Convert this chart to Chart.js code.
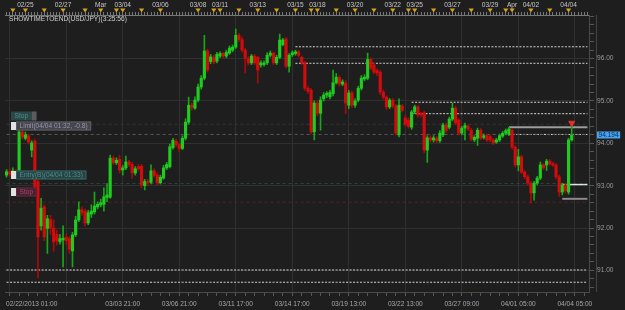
<!DOCTYPE html>
<html>
<head>
<meta charset="utf-8">
<title>USD/JPY H4</title>
<script src="https://cdn.jsdelivr.net/npm/chart.js@4.4.1/dist/chart.umd.min.js"></script>
<style>
  html, body { margin: 0; padding: 0; background: #1e1e1e; }
  #wrap { width: 625px; height: 310px; }
</style>
</head>
<body>
<div id="wrap"><canvas id="chart"></canvas></div>
<script>
//////////////////////////////////////////////////
// Data (USD/JPY, 4 hour candles)

const open = [
  93.25, 93.33, 93.27, 93.33, 93.30, 94.27, 94.12, 94.18, 93.84, 94.05,
  93.10, 92.05, 92.50, 91.99, 92.20, 92.00, 91.85, 91.68, 91.72, 91.78,
  91.75, 91.46, 91.84, 92.19, 92.43, 92.40, 92.12, 92.33, 92.38, 92.50,
  92.55, 92.56, 92.72, 92.73, 93.65, 93.54, 93.62, 93.37, 93.42, 93.56,
  93.50, 93.30, 93.45, 93.46, 93.00, 93.10, 93.08, 93.35, 93.25, 93.07,
  93.18, 93.42, 93.45, 93.90, 94.05, 93.97, 93.88, 94.12, 94.50, 94.90,
  94.83, 95.02, 95.33, 95.54, 96.18, 95.93, 96.03, 95.94, 96.06, 96.12,
  96.06, 96.13, 96.20, 96.27, 96.55, 96.45, 96.20, 96.00, 95.90, 96.06,
  96.03, 95.85, 95.86, 95.90, 96.08, 96.13, 95.90, 96.03, 96.33, 96.46,
  95.82, 96.09, 96.12, 96.16, 96.03, 95.90, 95.30, 95.25, 94.27, 94.95,
  94.71, 95.05, 95.14, 95.10, 95.17, 95.43, 95.56, 95.40, 95.42, 94.90,
  95.19, 94.90, 95.02, 95.30, 95.52, 95.54, 95.98, 95.85, 95.72, 95.68,
  95.21, 95.09, 94.86, 95.02, 94.88, 94.20, 94.88, 94.60, 94.55, 94.38,
  94.74, 94.86, 94.70, 94.72, 93.84, 94.13, 94.08, 94.12, 94.06, 94.20,
  94.43, 94.38, 94.57, 94.83, 94.55, 94.24, 94.36, 94.40, 94.31, 94.08,
  94.12, 94.31, 94.14, 94.18, 94.16, 94.08, 94.03, 94.08, 94.17, 94.24,
  94.22, 94.31, 93.91, 93.49, 93.68, 93.32, 93.21, 93.06, 92.83, 93.06,
  93.18, 93.49, 93.49, 93.58, 93.52, 93.49, 93.21, 92.85, 93.02, 92.85,
  94.08
]
const high = [
  93.38, 93.40, 93.42, 93.38, 94.36, 94.31, 94.27, 94.22, 94.06, 94.10,
  93.15, 92.70, 92.55, 92.30, 92.30, 92.20, 91.95, 91.85, 92.05, 91.85,
  91.80, 91.90, 92.28, 92.62, 92.50, 92.45, 92.42, 92.55, 92.85, 92.62,
  92.68, 92.95, 93.05, 93.72, 93.70, 93.66, 93.72, 93.48, 93.70, 93.60,
  93.56, 93.45, 93.50, 93.50, 93.15, 93.15, 93.49, 93.40, 93.30, 93.25,
  93.48, 93.55, 93.98, 94.12, 94.10, 94.00, 94.18, 94.58, 95.09, 94.95,
  95.10, 95.40, 95.60, 96.55, 96.22, 96.10, 96.08, 96.15, 96.16, 96.15,
  96.20, 96.30, 96.32, 96.70, 96.60, 96.50, 96.25, 96.05, 96.10, 96.10,
  96.06, 95.95, 95.95, 96.14, 96.18, 96.16, 96.08, 96.58, 96.48, 96.50,
  96.12, 96.18, 96.20, 96.20, 96.06, 95.94, 95.35, 95.30, 95.00, 95.00,
  95.10, 95.20, 95.22, 95.25, 95.73, 95.65, 95.60, 95.50, 95.48, 95.25,
  95.24, 95.05, 95.35, 95.60, 95.62, 96.13, 96.02, 95.90, 95.76, 95.72,
  95.26, 95.12, 95.06, 95.06, 94.92, 95.05, 94.92, 94.66, 94.60, 94.78,
  94.90, 94.90, 94.74, 94.76, 94.18, 94.18, 94.18, 94.16, 94.30, 94.48,
  94.48, 94.62, 94.95, 94.88, 94.58, 94.40, 94.48, 94.44, 94.35, 94.18,
  94.36, 94.35, 94.22, 94.22, 94.20, 94.12, 94.12, 94.22, 94.28, 94.34,
  94.38, 94.35, 93.95, 93.86, 93.72, 93.36, 93.25, 93.10, 93.10, 93.22,
  93.56, 93.52, 93.62, 93.62, 93.56, 93.52, 93.25, 93.06, 93.06, 94.12,
  94.43
]
const low = [
  93.20, 93.22, 93.22, 93.24, 93.25, 94.10, 94.08, 93.98, 93.68, 92.90,
  90.82, 91.95, 91.70, 91.40, 91.85, 91.45, 91.60, 91.62, 91.08, 91.62,
  91.40, 91.08, 91.80, 92.15, 92.30, 92.05, 92.08, 92.25, 92.33, 92.45,
  92.50, 92.40, 92.62, 92.70, 93.50, 93.50, 93.30, 93.25, 93.38, 93.45,
  93.18, 93.25, 93.35, 92.95, 92.90, 93.00, 93.04, 93.20, 93.02, 93.04,
  93.15, 93.38, 93.42, 93.86, 93.92, 93.80, 93.85, 94.08, 94.45, 94.78,
  94.80, 94.98, 95.28, 95.50, 95.68, 95.88, 95.88, 95.90, 96.02, 96.02,
  96.02, 96.10, 96.16, 96.24, 96.40, 96.15, 95.66, 95.85, 95.86, 95.85,
  95.42, 95.80, 95.82, 95.86, 96.04, 95.86, 95.86, 96.00, 96.30, 95.78,
  95.68, 96.05, 96.08, 96.04, 95.86, 95.25, 95.18, 94.22, 94.08, 94.65,
  94.31, 95.00, 95.08, 95.05, 95.12, 95.40, 95.35, 95.36, 94.70, 94.82,
  94.85, 94.85, 94.98, 95.26, 95.48, 95.50, 95.74, 95.64, 95.60, 95.15,
  95.04, 94.80, 94.82, 94.84, 94.20, 94.15, 94.74, 94.40, 94.36, 94.33,
  94.70, 94.62, 94.62, 93.78, 93.55, 94.03, 94.03, 94.02, 94.02, 94.16,
  94.25, 94.34, 94.53, 94.44, 94.20, 94.20, 94.08, 94.30, 94.06, 94.04,
  93.95, 94.08, 94.10, 94.04, 94.04, 93.97, 94.00, 94.04, 94.14, 94.20,
  94.18, 93.86, 93.44, 93.35, 93.28, 93.16, 93.02, 92.59, 92.66, 93.02,
  93.14, 93.38, 93.36, 93.48, 93.45, 93.16, 92.75, 92.78, 92.82, 92.80,
  94.05
]
const close = [
  93.33, 93.27, 93.35, 93.30, 94.27, 94.15, 94.20, 94.03, 94.01, 92.95,
  91.79, 92.47, 91.79, 92.22, 92.00, 91.67, 91.70, 91.75, 91.76, 91.70,
  91.50, 91.84, 92.19, 92.43, 92.36, 92.12, 92.36, 92.40, 92.52, 92.56,
  92.60, 92.74, 92.78, 93.65, 93.54, 93.60, 93.37, 93.42, 93.56, 93.50,
  93.30, 93.40, 93.40, 93.02, 93.10, 93.07, 93.35, 93.24, 93.07, 93.20,
  93.42, 93.50, 93.92, 94.07, 93.97, 93.88, 94.12, 94.50, 94.90, 94.85,
  95.02, 95.33, 95.54, 96.18, 95.73, 96.04, 95.92, 96.10, 96.12, 96.06,
  96.15, 96.25, 96.27, 96.55, 96.45, 96.20, 96.01, 95.90, 96.06, 95.90,
  95.73, 95.90, 95.90, 96.08, 96.13, 95.90, 96.03, 96.44, 96.44, 95.82,
  96.08, 96.14, 96.16, 96.08, 95.90, 95.30, 95.23, 94.27, 94.95, 94.71,
  95.02, 95.14, 95.18, 95.20, 95.43, 95.56, 95.40, 95.45, 94.95, 95.19,
  94.90, 95.00, 95.30, 95.54, 95.56, 95.98, 95.78, 95.68, 95.66, 95.21,
  95.09, 94.86, 95.02, 94.88, 94.24, 94.90, 94.78, 94.45, 94.40, 94.74,
  94.86, 94.67, 94.67, 93.84, 94.13, 94.08, 94.13, 94.06, 94.24, 94.43,
  94.30, 94.57, 94.83, 94.48, 94.24, 94.36, 94.42, 94.34, 94.10, 94.14,
  94.31, 94.12, 94.18, 94.08, 94.08, 94.01, 94.08, 94.18, 94.24, 94.30,
  94.34, 93.91, 93.49, 93.68, 93.32, 93.21, 93.06, 92.83, 93.06, 93.18,
  93.49, 93.42, 93.58, 93.52, 93.49, 93.21, 92.85, 93.02, 92.88, 94.08,
  94.19
]

// Candle slots on the x axis (a few empty ones on the right)
const slots = 186

// Bottom axis: labelled slots and grid slots
const bottomTicks = [
  [8, '02/22/2013 01:00'], [37, '03/03 21:00'], [55, '03/06 21:00'], [73, '03/11 17:00'],
  [91, '03/14 17:00'], [109, '03/19 13:00'], [127, '03/22 13:00'], [145, '03/27 09:00'],
  [163, '04/01 05:00'], [181, '04/04 05:00']
]
const gridSlots = [1, 19, 37, 55, 73, 91, 109, 127, 145, 163, 181]

// Top axis: day labels and calendar event markers
const topTicks = [
  [6, '02/25'], [18, '02/27'], [30, 'Mar'], [37, '03/04'], [49, '03/06'], [61, '03/08'],
  [68, '03/11'], [80, '03/13'], [92, '03/15'], [99, '03/18'], [111, '03/20'], [123, '03/22'],
  [130, '03/25'], [142, '03/27'], [154, '03/29'], [161, 'Apr'], [167, '04/02'], [179, '04/04']
]
const eventSlots = [2, 6, 12, 18, 25, 30, 35, 37, 43, 49, 61, 66, 68, 74, 80, 86, 92, 97, 99,
  105, 111, 117, 123, 128, 130, 136, 142, 148, 154, 159, 161, 167, 173, 179]

// Price axis labels
const priceTicks = [91, 92, 93, 94, 95, 96]

// Support / resistance levels and the slot they start at
const levelPrices = [96.28, 95.89, 94.97, 94.70, 94.21, 91.01, 90.72]
const levelStarts = [92, 92, 129, 129, 160, 0, 0]

// Solid bracket lines near the current price
const bracketPrices = [94.38, 93.03, 92.69]
const bracketStarts = [160, 177, 177]

// Order lines
const limitPrice = 94.21
const guidePrice = 94.45
const entryPrice = 93.05
const stopPrice = 92.61

// Order tags on the left
const tagTexts = ['Stop', 'Limit(04/04 01:32, -0.8)', 'Entry(B)(04/04 01:33)', 'Stop']
const tagPrices = [94.64, 94.42, 93.26, 92.84]

// Signal arrow and current price
const arrowSlot = 180
const arrowPrice = 94.48
const lastPrice = 94.194

const title = 'SHOWTIMETOEND(USD/JPY)(3:25:56)'

//////////////////////////////////////////////////
// Helpers

const labels = Array.from({ length: slots }, (_, i) => String(i))
const bottomLabelAt = Object.fromEntries(bottomTicks)
const topLabelAt = Object.fromEntries(topTicks)
const isUp = close.map((c, i) => c >= open[i])
const isMajor = (v) => priceTicks.some((p) => Math.abs(v - p) < 1e-6)

// line from a given slot to the right edge
const span = (value, from) => labels.map((_, i) => (i >= from ? value : null))

const lineSet = (data, color, width, dash) => ({
  type: 'line',
  data,
  borderColor: color,
  borderWidth: width,
  borderDash: dash,
  pointRadius: 0,
  fill: false,
  order: 2
})

//////////////////////////////////////////////////
// Chart settings

Chart.defaults.font.family = "'Liberation Sans', Arial, sans-serif"
Chart.defaults.font.size = 6.6
Chart.defaults.color = '#a0a0a0'

const tagStyles = [
  { bg: '#2a4a4a', fg: '#4f8a8a', border: '#2f5555', chip: 'right' },
  { bg: '#45454c', fg: '#9898b0', border: '#5c5c64', chip: 'left' },
  { bg: '#264444', fg: '#4f8c8a', border: '#386060', chip: 'left' },
  { bg: '#4a1f30', fg: '#a04a6a', border: '#5c2a3c', chip: 'left' }
]

const decor = {
  id: 'decor',
  beforeDraw(chart) {
    const { ctx, width, height } = chart
    ctx.save()
    ctx.fillStyle = '#1e1e1e'
    ctx.fillRect(0, 0, width, height)
    ctx.restore()
  },
  afterDraw(chart) {
    const { ctx, chartArea: a, scales: { x, y } } = chart
    ctx.save()

    // second axis line on the right
    ctx.strokeStyle = '#444'
    ctx.lineWidth = 1
    ctx.beginPath()
    ctx.moveTo(596.5, a.top)
    ctx.lineTo(596.5, a.bottom)
    ctx.stroke()

    // title
    ctx.font = "6.6px 'Liberation Sans', Arial, sans-serif"
    ctx.textBaseline = 'middle'
    ctx.textAlign = 'left'
    ctx.fillStyle = '#d2d2d2'
    ctx.fillText(title, a.left + 4, a.top + 4.5)

    // event markers on the top axis
    ctx.fillStyle = '#d6a21e'
    for (const s of eventSlots) {
      const px = x.getPixelForValue(s)
      ctx.beginPath()
      ctx.moveTo(px - 2.6, a.top - 6.5)
      ctx.lineTo(px + 2.6, a.top - 6.5)
      ctx.lineTo(px, a.top - 2.5)
      ctx.closePath()
      ctx.fill()
    }

    // order tags
    tagTexts.forEach((text, i) => {
      const st = tagStyles[i]
      const yc = Math.round(y.getPixelForValue(tagPrices[i]))
      const w = ctx.measureText(text).width + 7
      const top = yc - 4.5
      if (st.chip === 'left') {
        ctx.fillStyle = st.bg
        ctx.fillRect(a.left + 11, top, w, 9)
        ctx.strokeStyle = st.border
        ctx.strokeRect(a.left + 11.5, top + 0.5, w - 1, 8)
        ctx.fillStyle = '#e2e2e2'
        ctx.fillRect(a.left + 6, top + 0.5, 5, 8)
        ctx.fillStyle = st.fg
        ctx.fillText(text, a.left + 14.5, yc + 0.5)
      } else {
        ctx.fillStyle = st.bg
        ctx.fillRect(a.left + 6, top, w, 9)
        ctx.fillStyle = '#5c5c5c'
        ctx.fillRect(a.left + 6 + w, top, 5, 9)
        ctx.fillStyle = st.fg
        ctx.fillText(text, a.left + 9.5, yc + 0.5)
      }
    })

    // current price box
    const py = Math.round(y.getPixelForValue(lastPrice))
    const txt = lastPrice.toFixed(3)
    const tw = ctx.measureText(txt).width
    ctx.fillStyle = '#46a2ee'
    ctx.fillRect(597, py - 3.5, tw + 3, 7)
    ctx.fillStyle = '#0c2a4c'
    ctx.fillText(txt, 598.5, py + 0.5)

    ctx.restore()
  }
}

//////////////////////////////////////////////////
// Datasets

const datasets = [
  {
    type: 'bar',
    data: low.map((l, i) => [l, high[i]]),
    backgroundColor: isUp.map((u) => (u ? '#17a817' : '#a80a0a')),
    barThickness: 1,
    grouped: false,
    order: 1
  },
  {
    type: 'bar',
    data: open.map((o, i) => [o, close[i]]),
    backgroundColor: isUp.map((u) => (u ? '#1fcc1f' : '#d20c0c')),
    barThickness: 2.5,
    minBarLength: 1,
    grouped: false,
    order: 0
  },
  lineSet(span(limitPrice, 0), '#5e5e5e', 1, [3, 3]),
  lineSet(span(guidePrice, 0), '#363636', 1, [3, 3]),
  lineSet(span(entryPrice, 0), '#2c4a44', 1, [3, 3]),
  lineSet(span(stopPrice, 0), '#5a2424', 1, [3, 3]),
  ...levelPrices.map((p, i) => lineSet(span(p, levelStarts[i]), '#d8d8d8', 1, [2, 1.5])),
  lineSet(span(bracketPrices[0], bracketStarts[0]), '#9c9c9c', 2, []),
  lineSet(span(bracketPrices[1], bracketStarts[1]), '#e6e6e6', 1.5, []),
  lineSet(span(bracketPrices[2], bracketStarts[2]), '#8a8a8a', 2, []),
  {
    type: 'line',
    data: labels.map((_, i) => (i === arrowSlot ? arrowPrice : null)),
    showLine: false,
    pointStyle: 'triangle',
    rotation: 180,
    pointRadius: 3.5,
    pointBackgroundColor: '#e8302a',
    pointBorderColor: '#e8302a',
    order: -1
  }
]

//////////////////////////////////////////////////
// Chart

new Chart(document.getElementById('chart'), {
  type: 'bar',
  data: { labels, datasets },
  plugins: [decor],
  options: {
    responsive: true,
    maintainAspectRatio: false,
    animation: false,
    events: [],
    layout: { padding: 0 },
    plugins: {
      legend: { display: false },
      tooltip: { enabled: false }
    },
    scales: {
      x: {
        offset: true,
        afterFit: (s) => { s.height = 18 },
        grid: {
          offset: false,
          color: (ctx) => (gridSlots.includes(ctx.index) ? '#303030' : 'transparent'),
          tickColor: (ctx) => (ctx.index % 3 === 1 ? '#585858' : 'transparent'),
          tickLength: 4
        },
        border: { color: '#4a4a4a' },
        ticks: {
          autoSkip: false,
          maxRotation: 0,
          minRotation: 0,
          padding: 4,
          color: '#a4a8ae',
          callback: (v, i) => bottomLabelAt[i] || ''
        }
      },
      xTop: {
        type: 'category',
        position: 'top',
        offset: true,
        afterFit: (s) => { s.height = 15 },
        grid: {
          drawOnChartArea: false,
          offset: false,
          tickLength: 3,
          tickColor: '#777'
        },
        border: { color: '#777' },
        ticks: {
          autoSkip: false,
          maxRotation: 0,
          minRotation: 0,
          padding: 3,
          color: '#c8c8c8',
          callback: (v, i) => topLabelAt[i] || ''
        }
      },
      y: {
        position: 'right',
        min: 90.49,
        max: 97.03,
        afterFit: (s) => { s.width = 36 },
        grid: {
          color: (ctx) => (isMajor(ctx.tick.value) ? '#303030' : 'transparent'),
          tickColor: '#555',
          tickLength: 5
        },
        border: { color: '#4a4a4a' },
        ticks: {
          stepSize: 0.2,
          maxTicksLimit: 100,
          includeBounds: false,
          autoSkip: false,
          padding: 3,
          color: '#9a9a9a',
          callback: (v) => (isMajor(v) ? v.toFixed(2) : '')
        }
      }
    }
  }
})
</script>
</body>
</html>
